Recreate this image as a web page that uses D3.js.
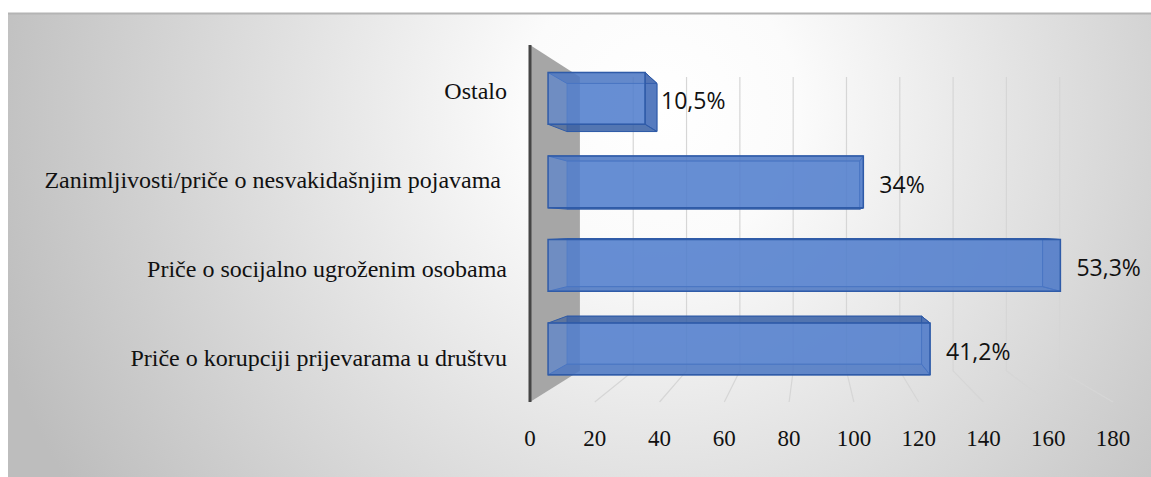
<!DOCTYPE html>
<html>
<head>
<meta charset="utf-8">
<script src="https://cdn.jsdelivr.net/npm/d3@7/dist/d3.min.js"></script>
<style>
  html, body { margin: 0; padding: 0; background: #ffffff; }
  svg { display: block; }
</style>
</head>
<body>
<svg id="chart" width="1151" height="477"></svg>
<script>
// ---- data ----
const categories = [
  "Ostalo",
  "Zanimljivosti/priče o nesvakidašnjim pojavama ",
  "Priče o socijalno ugroženim osobama",
  "Priče o korupciji prijevarama u društvu"
];
const values = [32, 104, 169, 126];
const valueLabels = ["10,5%", "34%", "53,3%", "41,2%"];
const tickValues = [0, 20, 40, 60, 80, 100, 120, 140, 160, 180];

// ---- layout ----
const W = 1151, H = 477;
const VP = { x: 812, y: 226 };       // vanishing point
const kWall = 0.823;                  // depth factor of back wall
const kBarFront = 0.936, kBarBack = 0.869;
const plotTop = 45, plotBottom = 402;
const serif = "'Times New Roman', 'Liberation Serif', serif";

const svg = d3.select("#chart");
const defs = svg.append("defs");

const bg = defs.append("radialGradient")
  .attr("id", "bgGrad").attr("gradientUnits", "userSpaceOnUse")
  .attr("cx", 660).attr("cy", 110).attr("r", 700);
bg.append("stop").attr("offset", 0).attr("stop-color", "#ffffff");
bg.append("stop").attr("offset", 0.2).attr("stop-color", "#fbfbfb");
bg.append("stop").attr("offset", 1).attr("stop-color", "#bdbdbd");

svg.append("rect").attr("x", 8).attr("y", 13).attr("width", W - 8).attr("height", H - 13)
  .attr("fill", "url(#bgGrad)");
svg.append("line").attr("x1", 8).attr("x2", W).attr("y1", 13.5).attr("y2", 13.5)
  .attr("stroke", "#b4b4b4").attr("stroke-width", 2);

const x = d3.scaleLinear().domain([0, 180]).range([530, 1113]);
const y = d3.scaleBand().domain(categories).range([plotTop, plotBottom])
  .paddingInner(0.38).paddingOuter(0.19);

function proj(v, yy, k) {
  return [VP.x + k * (x(v) - VP.x), VP.y + k * (yy - VP.y)];
}
const poly = pts => "M" + pts.map(p => p.join(",")).join("L") + "Z";

// ---- side wall ----
svg.append("path")
  .attr("d", poly([proj(0, plotTop, 1), proj(0, plotTop, kWall), proj(0, plotBottom, kWall), proj(0, plotBottom, 1)]))
  .attr("fill", "#a6a6a6");

// ---- gridlines (back wall + floor) ----
const grid = svg.append("g").attr("stroke", "#d6d6d6").attr("stroke-width", 1.2).attr("fill", "none");
tickValues.filter(v => v > 0).forEach(v => {
  const a = proj(v, plotTop, kWall), b = proj(v, plotBottom, kWall), c = proj(v, plotBottom, 1);
  grid.append("path").attr("d", `M${a[0]},${a[1]}L${b[0]},${b[1]}L${c[0]},${c[1]}`);
});

// ---- axis line ----
svg.append("line")
  .attr("x1", x(0)).attr("x2", x(0)).attr("y1", plotTop).attr("y2", plotBottom)
  .attr("stroke", "#454545").attr("stroke-width", 3);

// ---- bars ----
const barG = svg.append("g");
categories.forEach((cat, i) => {
  const v = values[i];
  const y0 = y(cat), y1 = y(cat) + y.bandwidth();
  const F = (vv, yy) => proj(vv, yy, kBarFront);
  const B = (vv, yy) => proj(vv, yy, kBarBack);
  const g = barG.append("g");
  const faceStroke = "#2f5ba8";
  // back face
  g.append("path").attr("d", poly([B(0, y0), B(v, y0), B(v, y1), B(0, y1)]))
    .attr("fill", "#4472c4").attr("fill-opacity", 0.62)
    .attr("stroke", faceStroke).attr("stroke-opacity", 0.5).attr("stroke-width", 1);
  // top / bottom faces
  const topFace = poly([F(0, y0), F(v, y0), B(v, y0), B(0, y0)]);
  const botFace = poly([F(0, y1), F(v, y1), B(v, y1), B(0, y1)]);
  g.append("path").attr("d", topFace).attr("fill", "#2f5597").attr("fill-opacity", 0.6)
    .attr("stroke", faceStroke).attr("stroke-width", 1);
  g.append("path").attr("d", botFace).attr("fill", "#2f5597").attr("fill-opacity", 0.6)
    .attr("stroke", faceStroke).attr("stroke-width", 1);
  // right face
  g.append("path").attr("d", poly([F(v, y0), B(v, y0), B(v, y1), F(v, y1)]))
    .attr("fill", "#3a63b0").attr("fill-opacity", 0.65)
    .attr("stroke", faceStroke).attr("stroke-width", 1);
  // front face
  g.append("path").attr("d", poly([F(0, y0), F(v, y0), F(v, y1), F(0, y1)]))
    .attr("fill", "#5682d0").attr("fill-opacity", 0.68)
    .attr("stroke", faceStroke).attr("stroke-width", 1.5);
});

// ---- value labels ----
svg.append("g").selectAll("text").data(categories).join("text")
  .attr("x", (d, i) => proj(values[i], 0, kBarFront)[0] + 16)
  .attr("y", d => proj(0, y(d) + y.bandwidth() / 2, kBarFront)[1] + 2)
  .attr("dominant-baseline", "central")
  .attr("font-family", "'Open Sans', 'Noto Sans', sans-serif")
  .attr("font-size", 23)
  .attr("fill", "#111")
  .text((d, i) => valueLabels[i]);

// ---- category labels ----
svg.append("g").selectAll("text").data(categories).join("text")
  .attr("x", 507)
  .attr("y", d => y(d) + y.bandwidth() / 2 + 9)
  .attr("text-anchor", "end")
  .style("white-space", "pre")
  .attr("font-family", serif)
  .attr("font-size", 24)
  .attr("fill", "#111")
  .text(d => d);

// ---- tick labels ----
svg.append("g").selectAll("text").data(tickValues).join("text")
  .attr("x", d => x(d))
  .attr("y", 446)
  .attr("text-anchor", "middle")
  .attr("font-family", serif)
  .attr("font-size", 23)
  .attr("fill", "#111")
  .text(d => d);
</script>
</body>
</html>
